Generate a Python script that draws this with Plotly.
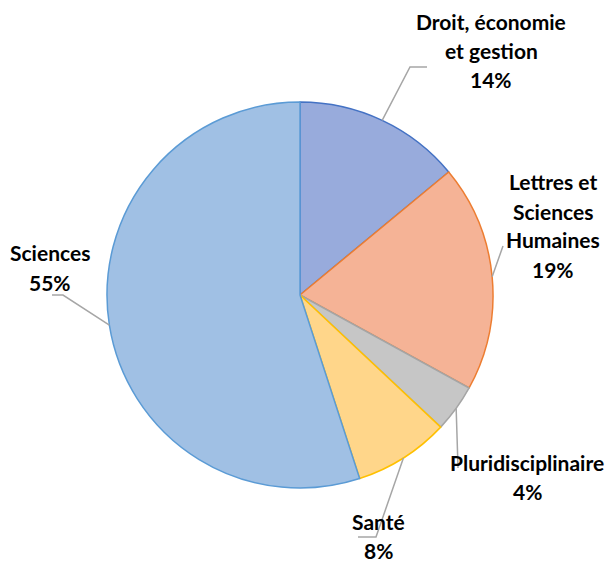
import math
import plotly.graph_objects as go

categories = ["Droit, économie et gestion", "Lettres et Sciences Humaines",
              "Pluridisciplinaire", "Santé", "Sciences"]
values = [14, 19, 4, 8, 55]
label_lines = [["Droit, économie", "et gestion", "14%"],
               ["Lettres et", "Sciences", "Humaines", "19%"],
               ["Pluridisciplinaire", "4%"],
               ["Santé", "8%"],
               ["Sciences", "55%"]]

fills = ["#98ABDC", "#F5B396", "#C6C6C6", "#FFD68A", "#A0C0E4"]
borders = ["#4472C4", "#ED7D31", "#A5A5A5", "#FFC000", "#5B9BD5"]

W, H = 612, 562
CX, CY, R = 300, 295, 193

# label anchors (pixels: center x of block, y of first line) and leader elbows
label_pos = [(491, 22), (553, 182), (527, 462), (378, 521), (50, 253)]
elbows = [[(410, 67), (427, 67)],
          [(503, 246)],
          [(458, 468)],
          [(376, 537), (358, 537)],
          [(63, 295), (52, 295)]]
LINE = 29

fig = go.Figure(go.Pie(
    labels=categories, values=values, sort=False, direction="clockwise",
    rotation=0, textinfo="none", hoverinfo="label+percent",
    marker=dict(colors=fills, line=dict(color=borders, width=1.5)),
    domain=dict(x=[(CX - R) / W, (CX + R) / W], y=[1 - (CY + R) / H, 1 - (CY - R) / H]),
    showlegend=False,
))

def px(x, y):
    return x / W, 1 - y / H

total = sum(values)
cum = 0
shapes = []
annotations = []
for i, v in enumerate(values):
    mid = (cum + v / 2) / total * 2 * math.pi
    cum += v
    ex = CX + R * math.sin(mid)
    ey = CY - R * math.cos(mid)
    pts = [(ex, ey)] + elbows[i]
    path = "M " + " L ".join(f"{px(x, y)[0]:.5f},{px(x, y)[1]:.5f}" for x, y in pts)
    shapes.append(dict(type="path", path=path, xref="paper", yref="paper",
                       line=dict(color="#A6A6A6", width=1.5)))
    lx, ly = label_pos[i]
    for j, t in enumerate(label_lines[i]):
        ax, ay = px(lx, ly + j * LINE)
        annotations.append(dict(x=ax, y=ay, xref="paper", yref="paper", text=f"<b>{t}</b>",
                                showarrow=False, xanchor="center", yanchor="middle",
                                font=dict(family="Lato", size=21, color="#000000")))

fig.update_layout(width=W, height=H, margin=dict(l=0, r=0, t=0, b=0),
                  paper_bgcolor="white", plot_bgcolor="white",
                  shapes=shapes, annotations=annotations)
fig.write_html("out.html", config={"displayModeBar": False},
               post_script="document.body.style.margin='0';document.body.style.overflow='hidden';")
